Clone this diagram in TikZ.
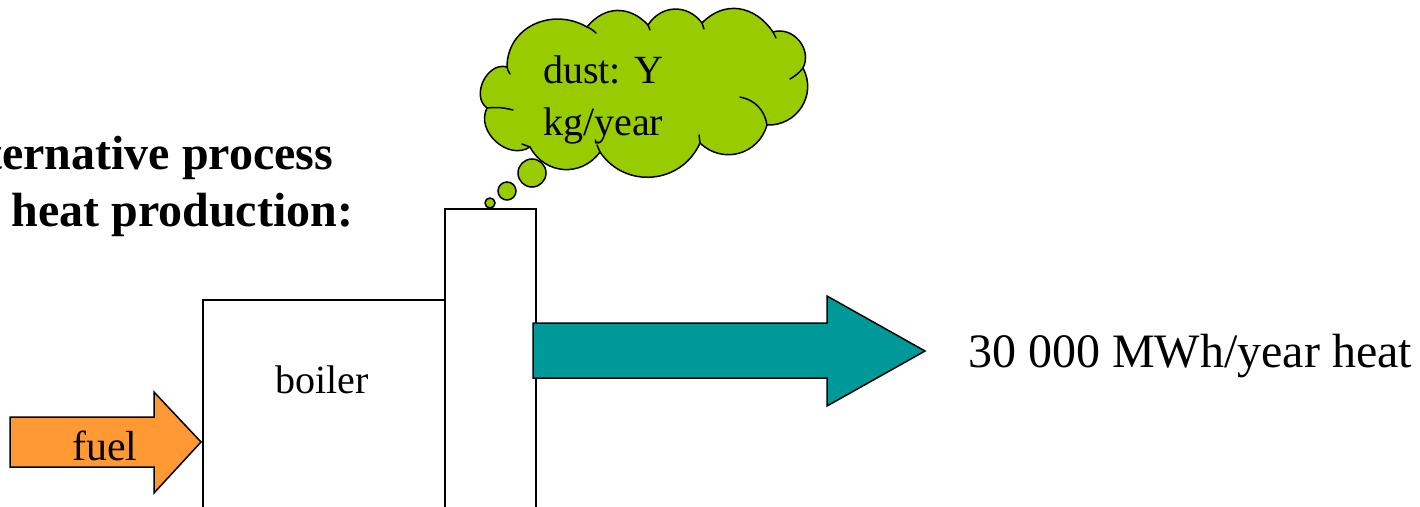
\documentclass[tikz,border=0pt]{standalone}
\usepackage{fontspec}
\setmainfont{Liberation Serif}
\definecolor{fuelorange}{HTML}{FF9933}
\definecolor{heatteal}{HTML}{009999}
\definecolor{cloudgreen}{HTML}{99CC00}
\tikzset{
  outl/.style={draw=black, line width=1.5pt, line join=miter},
  txt/.style={inner sep=0pt, font=\fontsize{40}{49}\selectfont},
  bigtxt/.style={inner sep=0pt, font=\fontsize{48}{57}\selectfont},
  titletxt/.style={inner sep=0pt, align=left, font=\fontsize{48}{57}\selectfont\bfseries},
  innerarc/.style={draw=black, line width=1.5pt, line cap=round},
  puff/.style={looseness=1.15}
}
\begin{document}
\begin{tikzpicture}[x=1pt,y=-1pt]
\useasboundingbox (0,0) rectangle (1420,506);
\clip (0,0) rectangle (1420,506);
% title
\node[titletxt, anchor=base west] (title) at (-62,226) {Alternative process\\for heat production:};
% boiler and stack
\draw[outl] (203,520) -- (203,300) -- (444,300);
\node[outl, fill=white, minimum width=91pt, minimum height=312pt, anchor=north west, inner sep=0pt] (stack) at (444,208) {};
\node[txt, anchor=base] (boiler) at (322,393) {boiler};
% fuel arrow
\draw[outl, fill=fuelorange] (10,417) -- (154,417) -- (154,392) -- (201,442) -- (154,493) -- (154,467) -- (10,467) -- cycle;
\node[txt, anchor=base, font=\fontsize{42}{50}\selectfont] (fuel) at (105,460) {fuel};
% heat arrow
\draw[outl, fill=heatteal] (533,323) -- (827,323) -- (827,296) -- (925,351) -- (827,406) -- (827,378) -- (533,378) -- cycle;
\node[bigtxt, anchor=base west] (heat) at (968,367) {30 000 MWh/year heat};
% thought bubbles
\node[outl, circle, fill=cloudgreen, minimum size=10pt, inner sep=0pt] (b1) at (490,203) {};
\node[outl, circle, fill=cloudgreen, minimum size=18pt, inner sep=0pt] (b2) at (507,191) {};
\node[outl, circle, fill=cloudgreen, minimum size=28pt, inner sep=0pt] (b3) at (532,173) {};
% cloud
\coordinate (p0) at (530,147);
\coordinate (p1) at (487,108);
\coordinate (p2) at (507,67);
\coordinate (p3) at (587,27);
\coordinate (pa) at (648,25);
\coordinate (p4) at (702,23);
\coordinate (p5) at (773,32);
\coordinate (p6) at (803,68);
\coordinate (p7) at (767,125);
\coordinate (p8) at (700,143);
\coordinate (p9) at (600,152);
\draw[outl, fill=cloudgreen]
  (p0) to[puff, out=213, in=243] (p1)
       to[puff, out=144, in=164] (p2)
       to[puff, out=90, in=150] (p3)
       to[puff, out=51, in=133] (pa)
       to[puff, out=57, in=127] (p4)
       to[puff, out=46, in=124] (p5)
       to[puff, out=17, in=63] (p6)
       to[puff, out=-62, in=-2] (p7)
       to[puff, out=-106, in=-44] (p8)
       to[puff, out=-114, in=-56] (p9)
       to[puff, out=234, in=-62] (p0)
  -- cycle;
\draw[innerarc] (p1) to[bend left=10] (513,110);
\draw[innerarc] (p2) to[bend right=10] (510,74);
\draw[innerarc] (p3) to[bend left=10] (596,33);
\draw[innerarc] (pa) -- (650,30);
\draw[innerarc] (p4) -- (704,29);
\draw[innerarc] (p5) -- (776,38);
\draw[innerarc] (p6) to[bend left=10] (790,79);
\draw[innerarc] (740,97) to[bend left=35] (p7);
\draw[innerarc] (p8) -- (699,135);
\draw[innerarc] (p9) -- (597,145);
\draw[innerarc] (p0) -- (522,144);
\node[txt, anchor=base west, align=left, font=\fontsize{40}{52}\selectfont] (dust) at (543,135) {dust: Y\\kg/year};
\end{tikzpicture}
\end{document}
